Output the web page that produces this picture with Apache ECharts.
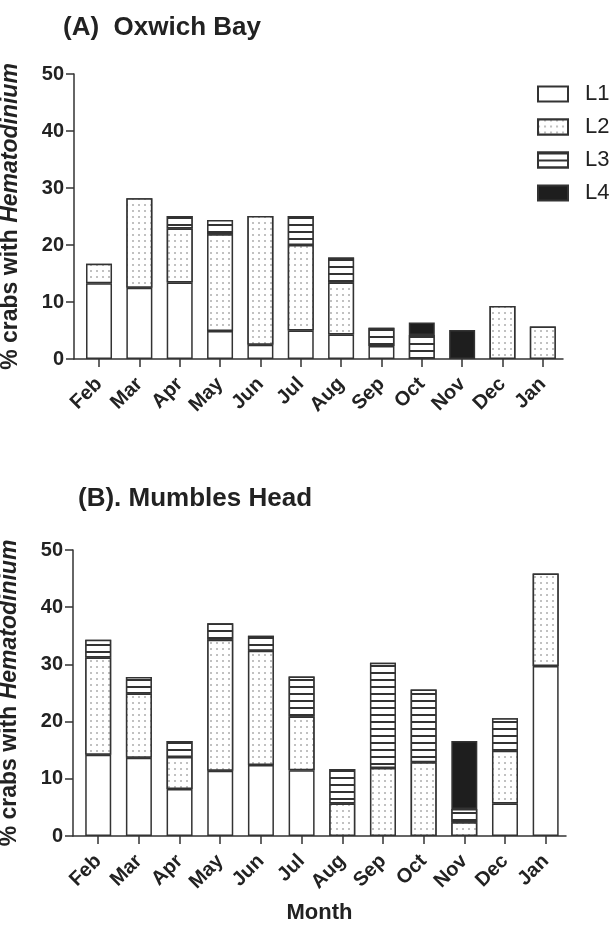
<!DOCTYPE html>
<html>
<head>
<meta charset="utf-8">
<script src="https://cdn.jsdelivr.net/npm/echarts@6/dist/echarts.min.js"></script>
<style>
html,body{margin:0;padding:0;background:#fff;}
#c{width:612px;height:925px;}
</style>
</head>
<body>
<div id="c"></div>
<script>
const months = ['Feb','Mar','Apr','May','Jun','Jul','Aug','Sep','Oct','Nov','Dec','Jan'];
const yTicks = [0, 10, 20, 30, 40, 50];

// (A) Oxwich Bay
const L1A = [13.3, 12.5, 13.4, 4.9, 2.5, 5.0, 4.3, 2.3, null, null, null, null];
const L2A = [3.4, 15.7, 9.5, 17.0, 22.6, 15.0, 9.1, null, null, null, 9.3, 5.7];
const L3A = [null, null, 2.2, 2.5, null, 5.1, 4.4, 3.2, 4.2, null, null, null];
const L4A = [null, null, null, null, null, null, null, null, 2.2, 5.1, null, null];

// (B) Mumbles Head
const L1B = [14.2, 13.7, 8.2, 11.4, 12.4, 11.5, null, null, null, null, 5.7, 29.7];
const L2B = [17.0, 11.2, 5.6, 22.9, 20.0, 9.4, 5.7, 11.9, 12.9, 2.4, 9.2, 16.2];
const L3B = [3.1, 2.9, 2.8, 2.9, 2.6, 7.0, 6.0, 18.4, 12.7, 2.3, 5.7, null];
const L4B = [null, null, null, null, null, null, null, null, null, 11.9, null, null];

const FONT = "'Liberation Sans', Arial, Helvetica, sans-serif";
const INK = '#333';
const TXT = '#222';

const styles = {
  L1: { color: '#fff', borderColor: INK, borderWidth: 1.5 },
  L2: { color: '#fff', borderColor: INK, borderWidth: 1.5,
        decal: { symbol: 'circle', symbolSize: 0.7, dashArrayX: [2, 4], dashArrayY: [2, 4],
                 color: '#555', backgroundColor: '#fff' } },
  L3: { color: '#fff', borderColor: INK, borderWidth: 1.5,
        decal: { symbol: 'rect', symbolSize: 1, dashArrayX: [1, 0], dashArrayY: [1.6, 4.1],
                 color: INK, backgroundColor: '#fff' } },
  L4: { color: '#1e1e1e', borderColor: INK, borderWidth: 1.5 }
};

// data stored as [value, monthIndex] so the value column is the stacked one
function mk(name, arr, idx) {
  return {
    name: name, type: 'bar', stack: 's' + idx,
    xAxisIndex: idx, yAxisIndex: idx,
    barWidth: 26,
    encode: { x: 1, y: 0 },
    itemStyle: styles[name],
    emphasis: { disabled: true },
    data: arr.map((v, i) => [v, i])
  };
}

const tickIdx = months.map((m, i) => i);

function xAx(gi, withName) {
  const a = {
    type: 'value', gridIndex: gi, min: -0.62, max: 11.5,
    splitLine: { show: false },
    axisLine: { show: true, onZero: false, lineStyle: { color: INK, width: 1.5 } },
    axisTick: { show: true, customValues: tickIdx, length: 8, lineStyle: { color: INK, width: 1.5 } },
    axisLabel: { customValues: tickIdx, rotate: 45, margin: 22,
      formatter: v => months[Math.round(v)],
      fontFamily: FONT, fontWeight: 'bold', fontSize: 20, color: TXT }
  };
  if (withName) {
    a.name = 'Month';
    a.nameLocation = 'middle';
    a.nameGap = 66;
    a.nameTextStyle = { fontFamily: FONT, fontWeight: 'bold', fontSize: 22, color: TXT };
  }
  return a;
}

function yAx(gi) {
  return {
    type: 'value', gridIndex: gi, min: 0, max: 50, interval: 10,
    splitLine: { show: false },
    axisLine: { show: true, onZero: false, lineStyle: { color: INK, width: 1.5 } },
    axisTick: { show: true, length: 8, lineStyle: { color: INK, width: 1.5 } },
    axisLabel: { margin: 10, fontFamily: FONT, fontWeight: 'bold', fontSize: 20, color: TXT,
      formatter: v => yTicks.indexOf(v) >= 0 ? String(v) : '' },
    name: '{a|% crabs with }{b|Hematodinium}',
    nameLocation: 'middle', nameRotate: 90, nameGap: 52,
    nameTextStyle: {
      rich: {
        a: { fontFamily: FONT, fontWeight: 'bold', fontSize: 23, color: TXT },
        b: { fontFamily: FONT, fontWeight: 'bold', fontStyle: 'italic', fontSize: 23, color: TXT }
      }
    }
  };
}

const chart = echarts.init(document.getElementById('c'), null, { renderer: 'canvas' });
chart.setOption({
  backgroundColor: '#fff',
  animation: false,
  title: [
    { text: '(A)  Oxwich Bay', left: 63, top: 15, padding: 0,
      textStyle: { fontFamily: FONT, fontWeight: 'bold', fontSize: 26, color: TXT } },
    { text: '(B). Mumbles Head', left: 78, top: 486, padding: 0,
      textStyle: { fontFamily: FONT, fontWeight: 'bold', fontSize: 26, color: TXT } }
  ],
  legend: {
    data: ['L1', 'L2', 'L3', 'L4'],
    orient: 'vertical', left: 537, top: 83, padding: 0,
    itemWidth: 30, itemHeight: 15, itemGap: 11,
    icon: 'rect', selectedMode: false,
    textStyle: { fontFamily: FONT, fontSize: 22, color: TXT, padding: [0, 0, 0, 12] }
  },
  grid: [
    { left: 74, top: 74, width: 489, height: 285, outerBoundsMode: 'none' },
    { left: 73, top: 550, width: 493, height: 286, outerBoundsMode: 'none' }
  ],
  xAxis: [xAx(0, false), xAx(1, true)],
  yAxis: [yAx(0), yAx(1)],
  series: [
    mk('L1', L1A, 0), mk('L2', L2A, 0), mk('L3', L3A, 0), mk('L4', L4A, 0),
    mk('L1', L1B, 1), mk('L2', L2B, 1), mk('L3', L3B, 1), mk('L4', L4B, 1)
  ]
});
</script>
</body>
</html>
